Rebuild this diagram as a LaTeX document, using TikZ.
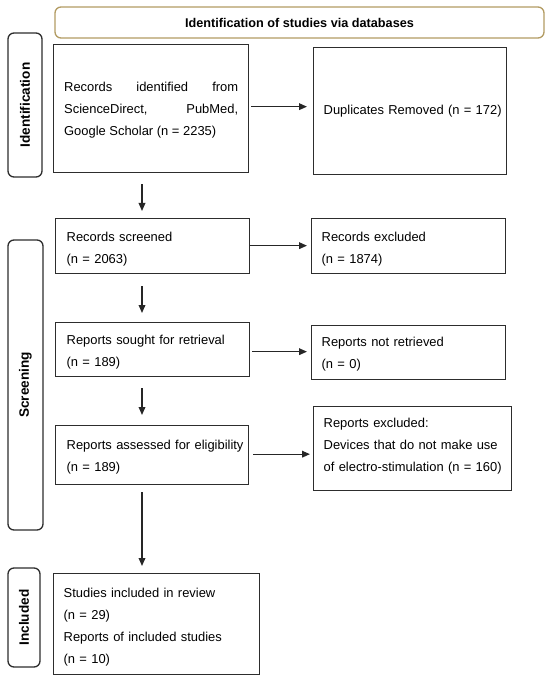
\documentclass[tikz,border=0pt]{standalone}
\usepackage{fontspec}
\setmainfont{Liberation Sans}
\usetikzlibrary{arrows.meta}
\newdimen\px \px=0.75pt
\hyphenpenalty=10000 \exhyphenpenalty=10000 \tolerance=10000 \hbadness=10000 \hfuzz=20pt
\newcommand\tup[1]{\rule{0pt}{#1}}
\newcommand\tdown[1]{\rule[-#1]{0pt}{0pt}}
\definecolor{gold}{RGB}{178,155,98}
\definecolor{edge}{RGB}{45,45,45}
\begin{document}
\begin{tikzpicture}[x=0.75pt,y=-0.75pt,
  box/.style={draw=edge, line width=1pt, anchor=north west, inner ysep=0pt,
    inner xsep=11\px, align=left, font=\fontsize{9.7}{16.5}\selectfont, text=black},
  side/.style={draw=edge, line width=1pt, rounded corners=6\px, rotate=90,
    inner sep=0pt, font=\bfseries\fontsize{10.2}{12}\selectfont},
  arr/.style={draw=black!85, line width=1pt, -{Triangle[length=6pt,width=5pt]}}]
\useasboundingbox (0,0) rectangle (550,680);

% header
\node[draw=gold, line width=1pt, rounded corners=6\px, minimum width=489\px,
  minimum height=31\px, inner sep=0pt, font=\bfseries\fontsize{9.5}{11}\selectfont]
  (hdr) at (299.5,22.5) {Identification of studies via databases};

% side labels
\node[side, minimum width=144\px, minimum height=34\px] (lid) at (25,105) {Identification};
\node[side, minimum width=290\px, minimum height=35\px] (lscr) at (25.5,385) {Screening};
\node[side, minimum width=99\px, minimum height=32\px] (linc) at (24,617.5) {Included};

% boxes
\node[box, minimum height=128\px, inner xsep=10.5\px, text width=174\px, align=justify] (id1) at (53,44)
  {\tup{8.6pt}Records identified from ScienceDirect, PubMed, Google Scholar (n = 2235)};
\node[box, minimum height=127\px, inner xsep=10\px, text width=173\px] (dup) at (313,47)
  {\mbox{Duplicates Removed (n = 172)}};

\node[box, minimum height=55\px, text width=172\px] (scr) at (55,218)
  {\tup{11.6pt}Records screened\\(n = 2063)};
\node[box, minimum height=55\px, inner xsep=10\px, text width=174\px] (rexc) at (311,218)
  {\tup{11.6pt}Records excluded\\(n = 1874)};

\node[box, minimum height=54\px, text width=172\px] (sought) at (55,322)
  {\tup{10.85pt}\mbox{Reports sought for retrieval}\\(n = 189)};
\node[box, minimum height=54\px, inner xsep=10\px, text width=174\px] (notret) at (311,325)
  {\tup{9.35pt}Reports not retrieved\\(n = 0)};

\node[box, minimum height=59\px, text width=171\px] (assess) at (55,425)
  {\tup{10.1pt}\mbox{Reports assessed for eligibility}\\(n = 189)};
\node[box, minimum height=84\px, inner xsep=10\px, text width=178\px] (repexc) at (313,406)
  {\mbox{Reports excluded:}\\\mbox{Devices that do not make use}\\\mbox{of electro-stimulation (n = 160)}\tdown{6.5pt}};

\node[box, minimum height=101\px, inner xsep=10\px, text width=186\px] (incl) at (53,573)
  {\tup{11.6pt}Studies included in review\\(n = 29)\\Reports of included studies\\(n = 10)};

% connectors
\coordinate (ax) at (142,0);
\draw[arr, shorten <=11\px, shorten >=7\px] (id1.south -| ax) -- (scr.north -| ax);
\draw[arr, shorten <=12\px, shorten >=9\px] (scr.south -| ax) -- (sought.north -| ax);
\draw[arr, shorten <=11\px, shorten >=10\px] (sought.south -| ax) -- (assess.north -| ax);
\draw[arr, shorten <=7\px, shorten >=7\px] (assess.south -| ax) -- (incl.north -| ax);

\draw[arr, shorten <=2\px, shorten >=6\px] ([yshift=2\px]id1.east) -- ([yshift=2\px]id1.east -| dup.west);
\draw[arr, shorten >=4\px] ([yshift=0.5\px]scr.east) -- ([yshift=0.5\px]scr.east -| rexc.west);
\draw[arr, shorten <=2\px, shorten >=4\px] ([yshift=-2\px]sought.east) -- ([yshift=-2\px]sought.east -| notret.west);
\draw[arr, shorten <=4\px, shorten >=3\px] ([yshift=1\px]assess.east) -- ([yshift=1\px]assess.east -| repexc.west);
\end{tikzpicture}
\end{document}
